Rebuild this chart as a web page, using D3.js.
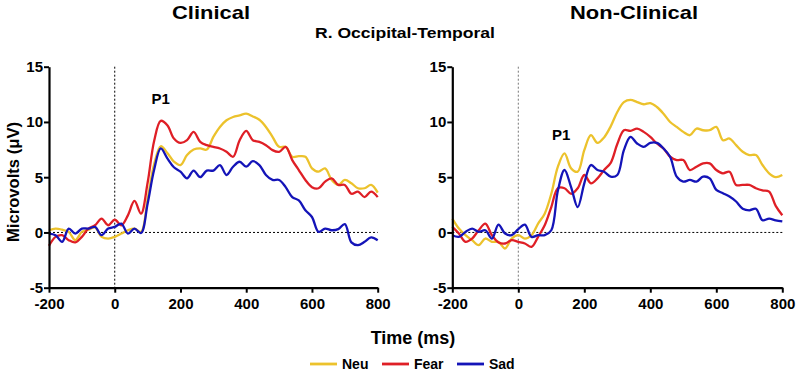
<!DOCTYPE html>
<html>
<head>
<meta charset="utf-8">
<script src="https://cdn.jsdelivr.net/npm/d3@7"></script>
<style>
  body { margin: 0; background: #fff; }
  text { font-family: "Liberation Sans", Arial, sans-serif; font-weight: bold; fill: #000; }
</style>
</head>
<body>
<div id="chart"></div>
<script>
// time points (ms), shared by every trace
var times = [-200, -180, -160, -140, -120, -100, -80, -60, -40, -20,
  0, 20, 40, 60, 80, 100, 120, 140, 160, 180,
  200, 220, 240, 260, 280, 300, 320, 340, 360, 380,
  400, 420, 440, 460, 480, 500, 520, 540, 560, 580,
  600, 620, 640, 660, 680, 700, 720, 740, 760, 780, 800];

// Clinical group (microvolts)
var clinicalNeu = [0.2, 0.35, 0.25, 0.05, -0.7, 0.05, 0.25, 0.45, -0.4, -0.55,
  -0.4, -0.1, 0.2, 0.35, 0.05, 3.0, 6.2, 7.8, 7.2, 6.4,
  6.1, 7.0, 7.5, 7.6, 7.5, 8.65, 9.55, 10.15, 10.45, 10.6,
  10.75, 10.5, 10.2, 9.55, 8.65, 7.75, 7.75, 6.85, 6.9, 6.85,
  5.8, 5.5, 5.8, 4.75, 4.3, 4.75, 4.45, 4.0, 4.0, 4.3, 3.6];
var clinicalFear = [-1.2, -0.4, -0.25, -0.7, -0.9, -0.4, 0.35, 0.65, 1.25, 0.65,
  1.15, 0.65, 1.55, 2.85, 1.7, 4.5, 8.3, 10.1, 9.7, 8.5,
  8.1, 8.35, 9.1, 8.2, 7.9, 7.75, 7.6, 7.3, 6.85, 8.35,
  9.2, 8.35, 8.2, 7.9, 7.45, 7.3, 7.75, 6.55, 5.65, 4.75,
  4.1, 4.0, 4.6, 4.9, 4.3, 4.3, 3.5, 3.7, 3.2, 3.7, 3.2];
var clinicalSad = [-0.1, -0.25, -0.85, 0.35, -0.1, 0.35, 0.35, 0.5, -0.25, 0.35,
  0.5, 0.8, -0.1, 0.35, -0.05, 2.6, 5.7, 7.6, 6.7, 5.9,
  5.5, 4.9, 5.6, 5.0, 5.6, 5.6, 6.1, 5.2, 5.95, 6.4,
  5.95, 6.45, 6.1, 5.2, 4.75, 4.75, 4.1, 3.2, 2.9, 2.0,
  1.4, 0.05, 0.35, 0.2, 0.3, 0.75, -0.9, -1.15, -0.85, -0.45, -0.7];

// Non-Clinical group (microvolts)
var nonClinicalNeu = [1.25, 0.35, -0.25, -0.7, -1.15, -0.55, -0.85, -0.85, -1.45, -0.55,
  -0.25, -0.55, -0.25, 0.8, 1.7, 3.5, 5.95, 7.15, 5.8, 5.5,
  7.45, 8.8, 8.1, 8.6, 9.6, 10.9, 11.8, 12.0, 11.8, 11.6,
  11.7, 11.35, 10.75, 10.0, 9.55, 9.1, 8.8, 9.4, 9.25, 9.25,
  9.55, 8.35, 8.5, 7.9, 7.3, 7.0, 7.0, 6.1, 5.35, 5.0, 5.2];
var nonClinicalFear = [0.5, -0.1, -0.85, -0.55, 0.2, 0.8, -0.25, -0.9, -1.0, -0.7,
  -0.85, -1.0, -1.3, -0.4, 0.65, 2.3, 4.0, 4.0, 3.5, 4.0,
  5.2, 4.45, 4.9, 5.65, 6.3, 8.0, 9.25, 9.2, 9.4, 9.1,
  8.65, 8.05, 7.6, 6.85, 6.55, 6.55, 5.65, 5.95, 6.25, 6.25,
  5.65, 5.35, 5.5, 4.3, 4.3, 4.3, 4.0, 3.8, 3.7, 2.4, 1.55];
var nonClinicalSad = [-0.25, -0.4, 0.05, 0.35, 0.05, 0.2, -0.55, 0.7, -0.1, -0.25,
  0.3, 0.7, -0.4, -0.25, -0.25, 0.2, 3.8, 5.65, 4.1, 2.3,
  4.45, 6.1, 5.65, 5.5, 5.05, 5.2, 7.45, 8.65, 8.05, 7.75,
  8.1, 8.1, 7.6, 6.85, 5.05, 4.6, 4.75, 4.6, 5.05, 4.9,
  3.85, 3.55, 3.25, 2.8, 2.15, 2.0, 2.15, 1.1, 1.25, 1.1, 1.0];

var xTicks = [-200, 0, 200, 400, 600, 800];
var yTicks = [-5, 0, 5, 10, 15];
var conditions = ["Neu", "Fear", "Sad"];
var colors = ["#ecc22c", "#df1f26", "#1414b8"];

var width = 797, height = 372;

var svg = d3.select("#chart")
  .append("svg")
  .attr("width", width)
  .attr("height", height);

var yScale = d3.scaleLinear()
  .domain([-5, 15])
  .range([287.7, 66.7]);

var panels = [
  {title: "Clinical", titleX: 211, titleLen: 78, left: 49, right: 377.7,
   series: [clinicalNeu, clinicalFear, clinicalSad], p1: [140, 11.6], zeroColor: "#000"},
  {title: "Non-Clinical", titleX: 634, titleLen: 128, left: 452.3, right: 782.3,
   series: [nonClinicalNeu, nonClinicalFear, nonClinicalSad], p1: [130, 8.4], zeroColor: "#777"}
];

// plain hyphen for negatives, like the original figure
var plain = function(d) { return String(d); };

panels.forEach(function(p) {
  var xScale = d3.scaleLinear()
    .domain([-200, 800])
    .range([p.left, p.right]);

  var g = svg.append("g");

  // dotted reference lines
  g.append("line")
    .attr("x1", xScale(0)).attr("x2", xScale(0))
    .attr("y1", yScale(15)).attr("y2", yScale(-5))
    .attr("stroke", p.zeroColor)
    .attr("stroke-width", 1)
    .attr("stroke-dasharray", "2,2");
  g.append("line")
    .attr("x1", xScale(-200)).attr("x2", xScale(800))
    .attr("y1", yScale(0)).attr("y2", yScale(0))
    .attr("stroke", "#000")
    .attr("stroke-width", 1)
    .attr("stroke-dasharray", "2,2");

  var line = d3.line()
    .x(function(d, i) { return xScale(times[i]); })
    .y(function(d) { return yScale(d); })
    .curve(d3.curveCatmullRom.alpha(0.5));

  p.series.forEach(function(values, k) {
    g.append("path")
      .datum(values)
      .attr("fill", "none")
      .attr("stroke", colors[k])
      .attr("stroke-width", 2.3)
      .attr("stroke-linejoin", "round")
      .attr("d", line);
  });

  // axes
  var xAxis = d3.axisBottom(xScale).tickValues(xTicks).tickFormat(plain)
    .tickSize(5).tickSizeOuter(0).tickPadding(6);
  var yAxis = d3.axisLeft(yScale).tickValues(yTicks).tickFormat(plain)
    .tickSize(5).tickSizeOuter(0).tickPadding(1);

  var gX = g.append("g")
    .attr("transform", "translate(0," + yScale(-5) + ")")
    .call(xAxis);
  var gY = g.append("g")
    .attr("transform", "translate(" + p.left + ",0)")
    .call(yAxis);

  [gX, gY].forEach(function(a) {
    a.select(".domain").attr("stroke", "#000").attr("stroke-width", 2.2);
    a.selectAll(".tick line").attr("stroke", "#000").attr("stroke-width", 2);
    a.selectAll(".tick text")
      .style("font-family", "'Liberation Sans', Arial, sans-serif")
      .style("font-weight", "bold")
      .style("font-size", "15px")
      .attr("fill", "#000");
  });

  // panel title
  svg.append("text")
    .attr("x", p.titleX)
    .attr("y", 18.5)
    .attr("text-anchor", "middle")
    .attr("font-size", "19px")
    .attr("textLength", p.titleLen)
    .attr("lengthAdjust", "spacingAndGlyphs")
    .text(p.title);

  // P1 marker
  g.append("text")
    .attr("x", xScale(p.p1[0]))
    .attr("y", yScale(p.p1[1]))
    .attr("text-anchor", "middle")
    .attr("font-size", "15px")
    .text("P1");
});

svg.append("text")
  .attr("x", 405)
  .attr("y", 37.5)
  .attr("text-anchor", "middle")
  .attr("font-size", "14px")
  .attr("textLength", 180)
  .attr("lengthAdjust", "spacingAndGlyphs")
  .text("R. Occipital-Temporal");

// y label
svg.append("text")
  .attr("transform", "translate(19,182) rotate(-90)")
  .attr("text-anchor", "middle")
  .attr("font-size", "17px")
  .attr("textLength", 120)
  .attr("lengthAdjust", "spacingAndGlyphs")
  .text("Microvolts (\u03bcV)");

// x label
svg.append("text")
  .attr("x", 413)
  .attr("y", 344)
  .attr("text-anchor", "middle")
  .attr("font-size", "18px")
  .text("Time (ms)");

// legend
var legendX = [310, 382, 457];
var legend = svg.append("g");
conditions.forEach(function(name, k) {
  legend.append("line")
    .attr("x1", legendX[k]).attr("x2", legendX[k] + 27)
    .attr("y1", 364).attr("y2", 364)
    .attr("stroke", colors[k])
    .attr("stroke-width", 2.8);
  legend.append("text")
    .attr("x", legendX[k] + 32)
    .attr("y", 369)
    .attr("font-size", "14px")
    .text(name);
});
</script>
</body>
</html>
